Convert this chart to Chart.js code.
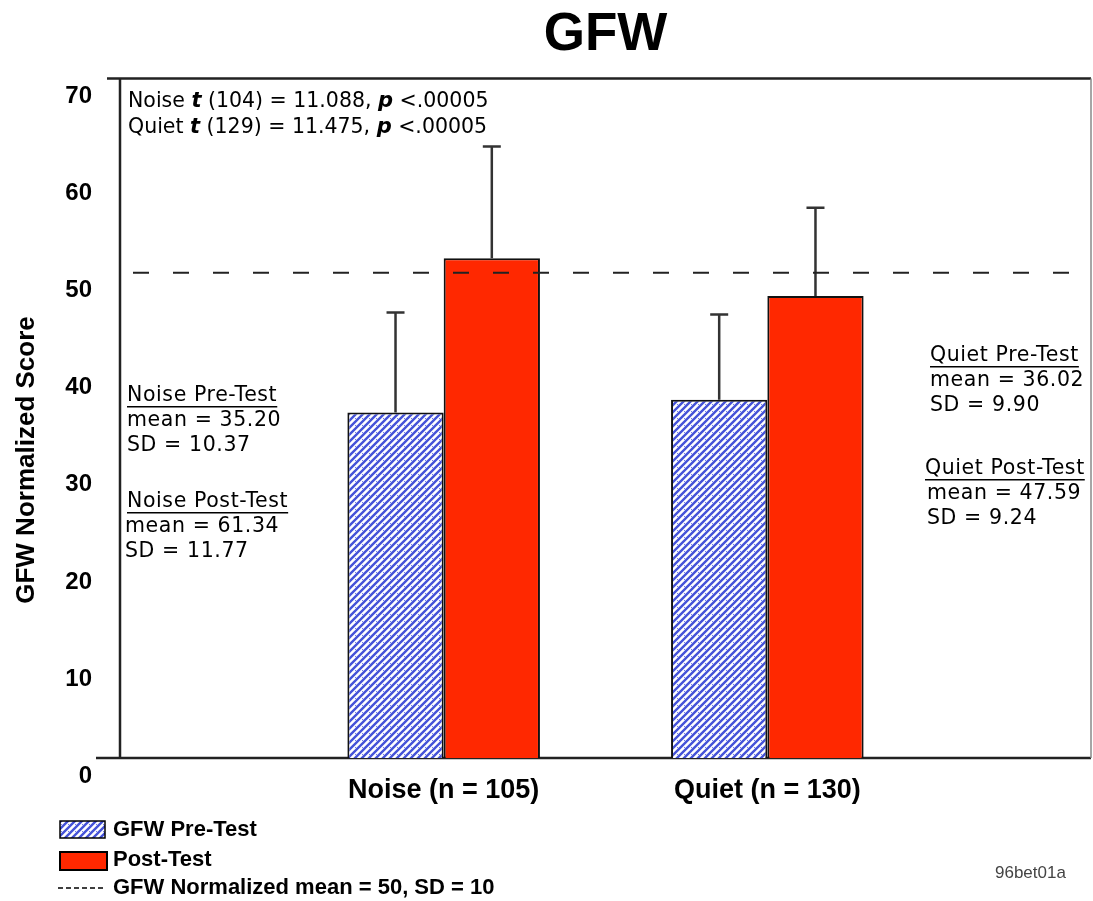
<!DOCTYPE html>
<html>
<head>
<meta charset="utf-8">
<script src="https://cdn.jsdelivr.net/npm/chart.js@4"></script>
<style>
html, body { margin: 0; padding: 0; background: #fff; overflow: hidden; }
canvas { display: block; }
</style>
</head>
<body>
<canvas id="graficoGFW" width="1093" height="901"></canvas>
<script>
// DADOS
const categorias = ['', 'Noise (n = 105)', 'Quiet (n = 130)', ''];
const mediaPre = [null, 35.6, 36.9, null];
const mediaPos = [null, 51.5, 47.6, null];
const desvioPre = [null, 10.3, 8.8, null];
const desvioPos = [null, 11.5, 9.1, null];
const mediaNormalizada = 50;
const eixoY = { min: 0, max: 70, passo: 10 };

const NARROW = "'Liberation Sans Narrow', 'Arial Narrow', 'Liberation Sans', Arial, sans-serif";
const SANS = "'Liberation Sans', Arial, sans-serif";
const MS = "'DejaVu Sans', Verdana, sans-serif";

const canvas = document.getElementById('graficoGFW');
const ctx = canvas.getContext('2d');

// hachura azul (barra pre-test)
function hachura() {
    const t = document.createElement('canvas');
    t.width = 7; t.height = 7;
    const g = t.getContext('2d');
    g.fillStyle = '#ffffff';
    g.fillRect(0, 0, 7, 7);
    g.strokeStyle = '#4553d8';
    g.lineWidth = 2.4;
    g.beginPath();
    g.moveTo(-2, 9); g.lineTo(9, -2);
    g.moveTo(-2, 2); g.lineTo(2, -2);
    g.moveTo(5, 9); g.lineTo(9, 5);
    g.stroke();
    g.fillStyle = '#6f7ae4';
    g.fillRect(5, 5, 1, 1);
    return ctx.createPattern(t, 'repeat');
}
const padraoAzul = hachura();

function sublinhado(c, txt, x, y) {
    c.fillText(txt, x, y);
    const w = c.measureText(txt).width;
    c.fillRect(x, y + 10, w, 1.5);
}

const extras = {
    id: 'extras',
    beforeDatasetsDraw(chart) {
        const { ctx: c, chartArea: a } = chart;
        c.save();
        c.strokeStyle = '#222';
        c.lineWidth = 2.5;
        c.beginPath();
        c.moveTo(a.left - 13, a.top); c.lineTo(a.right, a.top);
        c.moveTo(a.left, a.top); c.lineTo(a.left, a.bottom);
        c.moveTo(a.left - 24, a.bottom); c.lineTo(a.right, a.bottom);
        c.stroke();
        c.strokeStyle = '#888';
        c.lineWidth = 1.5;
        c.beginPath();
        c.moveTo(a.right, a.top); c.lineTo(a.right, a.bottom);
        c.stroke();
        c.restore();
    },
    afterDatasetsDraw(chart) {
        const { ctx: c, chartArea: a, scales: { y } } = chart;
        c.save();
        // barras de erro (so para cima)
        chart.data.datasets.forEach((ds, i) => {
            const meta = chart.getDatasetMeta(i);
            meta.data.forEach((bar, j) => {
                const sd = ds.desvio[j];
                if (sd == null || ds.data[j] == null) return;
                const topo = y.getPixelForValue(ds.data[j] + sd);
                c.strokeStyle = '#333';
                c.lineWidth = 2.5;
                c.beginPath();
                c.moveTo(bar.x, bar.y);
                c.lineTo(bar.x, topo);
                c.moveTo(bar.x - 9, topo);
                c.lineTo(bar.x + 9, topo);
                c.stroke();
            });
        });
        // linha tracejada media = 50
        const yr = y.getPixelForValue(mediaNormalizada);
        c.strokeStyle = '#222';
        c.lineWidth = 2;
        c.setLineDash([16, 24]);
        c.beginPath();
        c.moveTo(a.left + 13, yr);
        c.lineTo(a.right - 15, yr);
        c.stroke();
        c.restore();
    },
    afterDraw(chart) {
        const c = chart.ctx;
        c.save();
        c.fillStyle = '#000';
        c.textBaseline = 'middle';

        // titulo eixo Y
        c.save();
        c.translate(27, 460);
        c.rotate(-Math.PI / 2);
        c.textAlign = 'center';
        c.font = 'bold 26px ' + SANS;
        c.fillText('GFW Normalized Score', 0, 0);
        c.restore();

        // estatisticas
        c.textAlign = 'left';
        const linhas = [
            ['Noise ', 't', ' (104) = 11.088, ', 'p', ' <.00005'],
            ['Quiet ', 't', ' (129) = 11.475, ', 'p', ' <.00005']
        ];
        linhas.forEach((partes, k) => {
            let x = 128;
            const yy = 102 + k * 26;
            partes.forEach((p, n) => {
                c.font = (n % 2 === 1 ? 'italic bold 21px ' : '20.5px ') + MS;
                c.fillText(p, x, yy);
                x += c.measureText(p).width;
            });
        });

        // anotacoes
        c.font = '20.5px ' + MS;
        c.letterSpacing = '0.6px';
        sublinhado(c, 'Noise Pre-Test', 127, 396);
        c.fillText('mean = 35.20', 127, 421);
        c.fillText('SD = 10.37', 127, 446);
        sublinhado(c, 'Noise Post-Test', 127, 502);
        c.fillText('mean = 61.34', 125, 527);
        c.fillText('SD = 11.77', 125, 552);

        sublinhado(c, 'Quiet Pre-Test', 930, 356);
        c.fillText('mean = 36.02', 930, 381);
        c.fillText('SD = 9.90', 930, 406);
        sublinhado(c, 'Quiet Post-Test', 925, 469);
        c.fillText('mean = 47.59', 927, 494);
        c.fillText('SD = 9.24', 927, 519);
        c.letterSpacing = '0px';

        // legenda
        c.fillStyle = padraoAzul;
        c.fillRect(60, 821, 45, 17);
        c.strokeStyle = '#000';
        c.lineWidth = 1.5;
        c.strokeRect(60, 821, 45, 17);
        c.fillStyle = '#ff2800';
        c.fillRect(60, 852, 47, 18);
        c.lineWidth = 2;
        c.strokeRect(60, 852, 47, 18);
        c.save();
        c.setLineDash([5, 3]);
        c.lineWidth = 1.5;
        c.beginPath();
        c.moveTo(58, 888); c.lineTo(104, 888);
        c.stroke();
        c.restore();

        c.fillStyle = '#000';
        c.font = 'bold 22px ' + SANS;
        c.fillText('GFW Pre-Test', 113, 830);
        c.fillText('Post-Test', 113, 860);
        c.fillText('GFW Normalized mean = 50, SD = 10', 113, 888);

        c.fillStyle = '#444';
        c.font = '17px ' + SANS;
        c.fillText('96bet01a', 995, 873);
        c.restore();
    }
};

new Chart(canvas, {
    type: 'bar',
    data: {
        labels: categorias,
        datasets: [{
            label: 'GFW Pre-Test',
            data: mediaPre,
            desvio: desvioPre,
            backgroundColor: padraoAzul,
            borderColor: '#111',
            borderWidth: 2
        }, {
            label: 'Post-Test',
            data: mediaPos,
            desvio: desvioPos,
            backgroundColor: '#ff2800',
            borderColor: '#111',
            borderWidth: 2
        }]
    },
    options: {
        responsive: false,
        animation: false,
        devicePixelRatio: 1,
        categoryPercentage: 0.595,
        barPercentage: 1,
        layout: { padding: { top: 0, right: 2, left: 0, bottom: 0 } },
        plugins: {
            legend: { display: false },
            tooltip: { enabled: false },
            title: {
                display: true,
                text: 'GFW',
                fullSize: false,
                color: '#000',
                font: { family: SANS, size: 53, weight: 'bold' },
                padding: { top: 4, bottom: 11 }
            }
        },
        scales: {
            x: {
                type: 'category',
                offset: false,
                grid: { display: false, drawTicks: false },
                border: { display: false },
                ticks: {
                    autoSkip: false,
                    maxRotation: 0,
                    padding: 16,
                    color: '#000',
                    font: { family: SANS, size: 27, weight: 'bold' }
                },
                afterFit: s => {
                    s.height = 143;
                    s.paddingLeft = 0;
                    s.paddingRight = 0;
                }
            },
            y: {
                min: eixoY.min,
                max: eixoY.max,
                grid: { display: false, drawTicks: false },
                border: { display: false },
                ticks: {
                    stepSize: eixoY.passo,
                    labelOffset: 18,
                    padding: 28,
                    color: '#000',
                    font: { family: NARROW, size: 24, weight: 'bold' }
                },
                afterFit: s => { s.width = 120; }
            }
        }
    },
    plugins: [extras]
});
</script>
</body>
</html>
